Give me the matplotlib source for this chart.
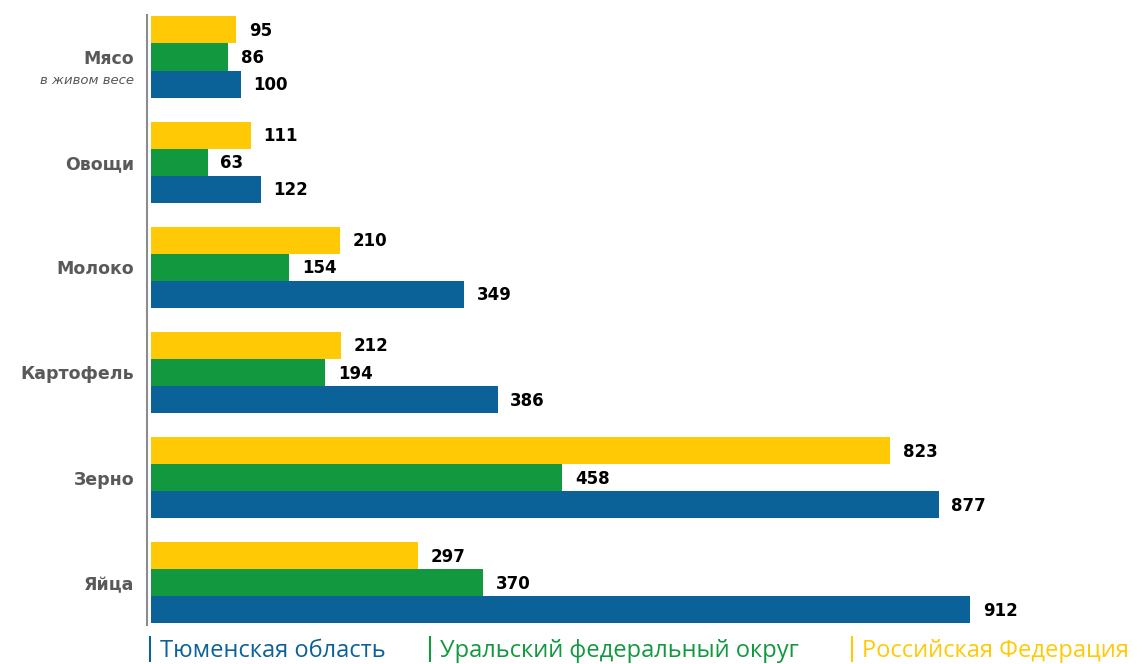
import numpy as np
import matplotlib
matplotlib.use('Agg')
import matplotlib.pyplot as plt

categories = ['Мясо', 'Овощи', 'Молоко', 'Картофель', 'Зерно', 'Яйца']
series_names = ['Тюменская область', 'Уральский федеральный округ', 'Российская Федерация']
tyumen = [100, 122, 349, 386, 877, 912]
urfo = [86, 63, 154, 194, 458, 370]
rf = [95, 111, 210, 212, 823, 297]

colors = ['#0b6298', '#12983f', '#ffca05']
label_color = '#595959'

fig = plt.figure(figsize=(11.47, 6.64), dpi=100)
ax = fig.add_axes([151 / 1147, 1 - 628 / 664, 1 - 151 / 1147, 618 / 664])

y = np.arange(len(categories))
h = 0.257
# сверху вниз: РФ, УрФО, Тюменская область
for vals, off, c in [(rf, -h, colors[2]), (urfo, 0, colors[1]), (tyumen, h, colors[0])]:
    bars = ax.barh(y + off, vals, height=h, color=c)
    for b, v in zip(bars, vals):
        ax.text(v + 14, b.get_y() + h / 2 + 0.01, str(v), va='center', ha='left',
                fontsize=12, fontweight='bold', color='black', family='DejaVu Sans')

ax.set_xlim(0, 1109)
ax.set_ylim(5.43, -0.447)
for s in ['top', 'right', 'bottom']:
    ax.spines[s].set_visible(False)
ax.spines['left'].set_color('#8c8c8c')
ax.spines['left'].set_linewidth(1.5)
ax.spines['left'].set_position(('outward', 3))
ax.spines['left'].set_bounds(-0.4, 5.4)
ax.set_xticks([])
ax.set_yticks(y)
ax.set_yticklabels(categories, fontsize=12.5, fontweight='bold', color=label_color)
ax.tick_params(axis='y', length=0, pad=9)
ax.annotate('в живом весе', xy=(0, 0.22), xycoords=ax.get_yaxis_transform(),
            xytext=(-12, 0), textcoords='offset points', ha='right', va='center',
            fontsize=9.5, style='italic', color=label_color)

# легенда внизу
legend_x = [150, 430, 852]
for x0, name, c in zip(legend_x, series_names, colors):
    fig.add_artist(plt.Line2D([x0 / 1147, x0 / 1147], [0.005, 1 - 637 / 664],
                              transform=fig.transFigure, color=c, lw=1.5))
    fig.text((x0 + 10) / 1147, 1 - 651 / 664, name, color=c, fontsize=17,
             family='Open Sans', va='center', ha='left')

fig.savefig('out.png', dpi=100)
